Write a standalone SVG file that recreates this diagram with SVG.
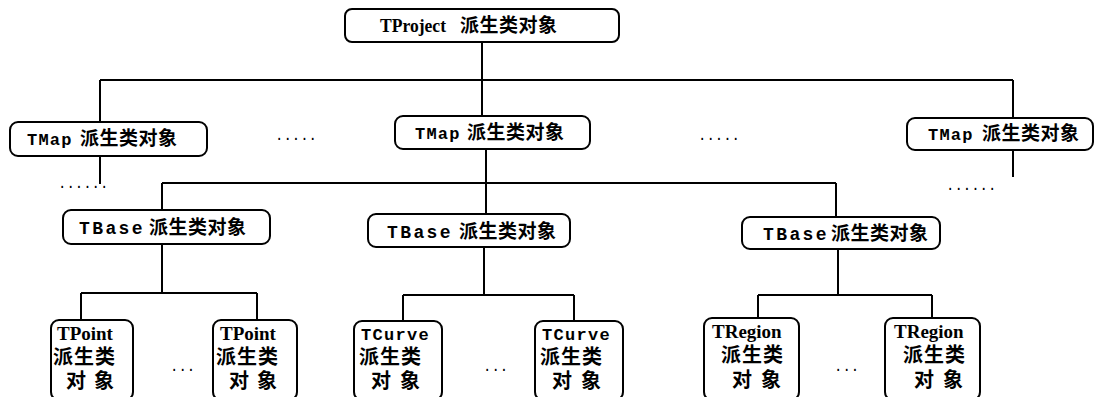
<svg xmlns="http://www.w3.org/2000/svg" width="1100" height="397" viewBox="0 0 1100 397">
<style>
.box{fill:#fff;stroke:#000;stroke-width:2;}
.ln{stroke:#000;stroke-width:2;fill:none;}
.mono{font-family:"Liberation Mono","DejaVu Sans Mono",monospace;font-weight:bold;font-size:17px;letter-spacing:1.2px;}
.tb{font-family:"Liberation Mono","DejaVu Sans Mono",monospace;font-weight:bold;font-size:18px;letter-spacing:2.4px;}
.tc{font-family:"Liberation Mono","DejaVu Sans Mono",monospace;font-weight:bold;font-size:17px;letter-spacing:1.3px;}
.ser{font-family:"Liberation Serif","Times New Roman",serif;font-weight:bold;}
.sb{font-family:"Liberation Serif","Times New Roman",serif;font-weight:bold;font-size:19px;}
.cjk{font-family:"Noto Sans CJK SC",sans-serif;font-weight:bold;font-size:19px;letter-spacing:0.5px;}
.cb{font-family:"Noto Sans CJK SC",sans-serif;font-weight:bold;font-size:20px;letter-spacing:1px;}
.dots{font-family:"Liberation Mono",monospace;font-size:14px;}
</style>
<rect width="1100" height="397" fill="#fff"/>
<g id="connectors">
<path class="ln" d="M482 42V80M100 80H1013M100 80V122M482 80V116M1013 80V118"/>
<path class="ln" d="M100 156V184M1013 150V177M486 149V214M162 183H836M162 183V210M836 183V217"/>
<path class="ln" d="M162 244V293M81 293H257M81 293V320M257 293V320"/>
<path class="ln" d="M484 247V295M403 295H574M403 295V321M574 295V321"/>
<path class="ln" d="M838 249V295M758 295H932M758 295V318M932 295V318"/>
</g>
<g id="dots">
<text class="dots" x="58" y="188">......</text>
<text class="dots" x="275" y="140">.....</text>
<text class="dots" x="698" y="140">.....</text>
<text class="dots" x="946" y="190">......</text>
<text class="dots" x="170" y="371">...</text>
<text class="dots" x="483" y="371">...</text>
<text class="dots" x="834" y="371">...</text>
</g>
<g id="tproject">
<rect class="box" x="345" y="9" width="274" height="33" rx="7"/>
<text y="32"><tspan class="ser" font-size="19" x="380" textLength="66" lengthAdjust="spacingAndGlyphs">TProject</tspan><tspan class="cjk" x="460">派生类对象</tspan></text>
</g>
<g id="tmap-left">
<rect class="box" x="10" y="122" width="197" height="34" rx="8"/>
<text y="145"><tspan class="mono" x="27">TMap</tspan><tspan class="cjk" x="80">派生类对象</tspan></text>
</g>
<g id="tmap-mid">
<rect class="box" x="395" y="116" width="195" height="33" rx="8"/>
<text y="139"><tspan class="mono" x="415">TMap</tspan><tspan class="cjk" x="467">派生类对象</tspan></text>
</g>
<g id="tmap-right">
<rect class="box" x="907" y="118" width="186" height="32" rx="8"/>
<text y="140"><tspan class="mono" x="928">TMap</tspan><tspan class="cjk" x="982">派生类对象</tspan></text>
</g>
<g id="tbase-left">
<rect class="box" x="63" y="210" width="207" height="34" rx="8"/>
<text y="234"><tspan class="tb" x="79">TBase</tspan><tspan class="cjk" font-size="18" x="149">派生类对象</tspan></text>
</g>
<g id="tbase-mid">
<rect class="box" x="368" y="214" width="202" height="33" rx="8"/>
<text y="238"><tspan class="tb" x="387">TBase</tspan><tspan class="cjk" font-size="18" x="459">派生类对象</tspan></text>
</g>
<g id="tbase-right">
<rect class="box" x="742" y="217" width="198" height="32" rx="8"/>
<text y="240"><tspan class="tb" x="763">TBase</tspan><tspan class="cjk" font-size="18" x="831">派生类对象</tspan></text>
</g>
<g id="tpoint-1">
<rect class="box" x="51" y="320" width="82" height="80" rx="8"/>
<text><tspan class="sb" x="57" y="340">TPoint</tspan><tspan class="cb" x="53" y="364">派生类</tspan><tspan class="cb" x="66" y="388">对</tspan><tspan class="cb" x="94" y="388">象</tspan></text>
</g>
<g id="tpoint-2">
<rect class="box" x="213" y="320" width="84" height="80" rx="8"/>
<text><tspan class="sb" x="220" y="340">TPoint</tspan><tspan class="cb" x="216" y="364">派生类</tspan><tspan class="cb" x="229" y="388">对</tspan><tspan class="cb" x="257" y="388">象</tspan></text>
</g>
<g id="tcurve-1">
<rect class="box" x="354" y="321" width="88" height="79" rx="8"/>
<text><tspan class="tc" x="361" y="340">TCurve</tspan><tspan class="cb" x="359" y="364">派生类</tspan><tspan class="cb" x="371" y="388">对</tspan><tspan class="cb" x="400" y="388">象</tspan></text>
</g>
<g id="tcurve-2">
<rect class="box" x="535" y="321" width="88" height="79" rx="8"/>
<text><tspan class="tc" x="542" y="340">TCurve</tspan><tspan class="cb" x="540" y="364">派生类</tspan><tspan class="cb" x="552" y="388">对</tspan><tspan class="cb" x="581" y="388">象</tspan></text>
</g>
<g id="tregion-1">
<rect class="box" x="704" y="318" width="95" height="82" rx="8"/>
<text><tspan class="sb" x="712" y="338">TRegion</tspan><tspan class="cb" x="721" y="362">派生类</tspan><tspan class="cb" x="732" y="387">对</tspan><tspan class="cb" x="761" y="387">象</tspan></text>
</g>
<g id="tregion-2">
<rect class="box" x="885" y="318" width="95" height="82" rx="8"/>
<text><tspan class="sb" x="894" y="338">TRegion</tspan><tspan class="cb" x="903" y="362">派生类</tspan><tspan class="cb" x="914" y="387">对</tspan><tspan class="cb" x="943" y="387">象</tspan></text>
</g>
</svg>
